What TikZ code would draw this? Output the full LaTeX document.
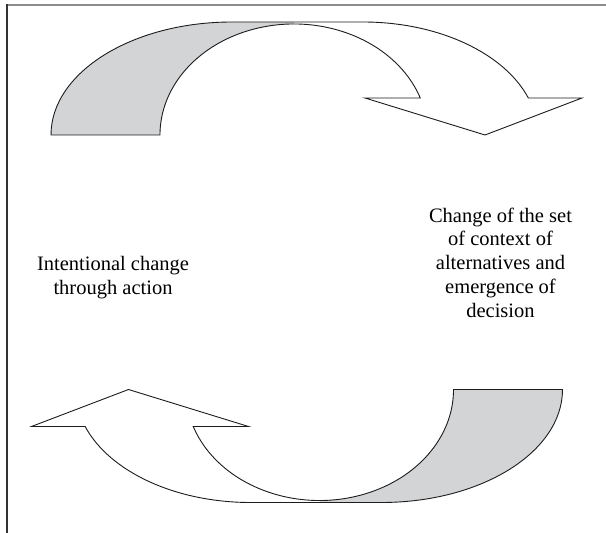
\documentclass[tikz,border=0pt]{standalone}
\usepackage{fontspec}
\setmainfont{Liberation Serif}
\usepackage{xcolor}
\usepackage{tikz}
\usetikzlibrary{positioning, calc}
\definecolor{BackGray}{HTML}{D3D4D6}
\definecolor{EdgeDark}{HTML}{1C1C1C}
\definecolor{FrameTop}{HTML}{8C8C8C}
\definecolor{FrameSide}{HTML}{333333}

\begin{document}
\begin{tikzpicture}[x=1pt, y=1pt,
    lbl/.style={align=center, inner sep=0pt, font=\fontsize{20.5}{23.7}\selectfont},
    band/.style={draw=EdgeDark, line width=0.9pt, line join=miter}]
  \useasboundingbox (0,0) rectangle (606,533);
  \def\Wy{435}
  % frame (top and left only)
  \draw[FrameTop, line width=1.4pt] (7,528) -- (606,528);
  \draw[FrameSide, line width=1.2pt] (7,0) -- (7,528.7);
  % one curved arrow: back part shaded, front part with head
  \def\curvarrow{%
    \fill[BackGray] (51,398) -- (160,398)
       arc[start angle=180, end angle=90, x radius=134, y radius=111] -- (294,511)
       -- (232,511) arc[start angle=90, end angle=180, x radius=181, y radius=113] -- cycle;
    \draw[band] (51,398) arc[start angle=180, end angle=90, x radius=181, y radius=113]
       -- (363,511) arc[start angle=90, end angle=19.11, x radius=175, y radius=113]
       -- (582,\Wy) -- (485,398) -- (365,\Wy) -- (420.3,\Wy)
       arc[start angle=19.47, end angle=180, x radius=134, y radius=111] -- cycle;}
  \curvarrow
  \begin{scope}[rotate around={180:(306.75,270.75)}]
    \curvarrow
  \end{scope}
  % labels
  \node[lbl] (act) at (113,255.5) {Intentional change\\through action};
  \node[lbl] (dec) at (500.5,270.5) {Change of the set\\of context of\\alternatives and\\emergence of\\decision};
\end{tikzpicture}
\end{document}
